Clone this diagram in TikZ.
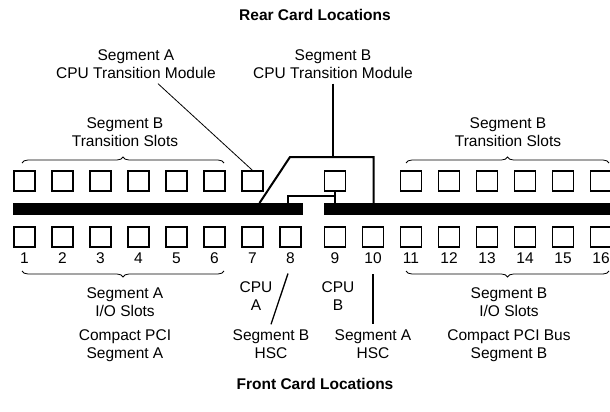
\documentclass[tikz,border=0pt]{standalone}
\usepackage{fontspec}
\setmainfont{Liberation Sans}
\usepackage{tikz}
\usetikzlibrary{positioning}
\usetikzlibrary{calc,decorations.pathreplacing}
\tikzset{
  slot/.style = {rectangle, draw, line width=1.3pt, minimum width=21pt,
   minimum height=20pt, inner sep=0pt},
  bus/.style = {rectangle, fill=black, inner sep=0pt, minimum height=12pt,
   anchor=north west},
  lbl/.style = {align=center, inner sep=0pt, font=\fontsize{15.5}{18}\selectfont},
  num/.style = {inner sep=0pt, font=\fontsize{15.5}{18}\selectfont},
  ttl/.style = {inner sep=0pt, font=\bfseries\fontsize{15.5}{18}\selectfont},
  wire/.style = {line width=2pt},
  lead/.style = {line width=0.8pt},
  brc/.style = {decorate, decoration={brace, amplitude=6pt}, line width=0.8pt},
}

\begin{document}
\begin{tikzpicture}[x=1pt, y=-1pt]
  \useasboundingbox (0,0) rectangle (610,412);
  % backplane
  \node[bus, minimum width=290pt] (busA) at (13,203) {};
  \node[bus, minimum width=300pt] (busB) at (324,203) {};
  % rear slots
  \foreach \i in {1,...,7}
    \node[slot] (r\i) at ({24.5+(\i-1)*38}, 181) {};
  \node[slot] (r9) at (335,181) {};
  \foreach \i in {11,...,16}
    \node[slot] (r\i) at ({335+(\i-9)*38}, 181) {};
  % front slots
  \foreach \i in {1,...,8}
    \node[slot] (f\i) at ({24.5+(\i-1)*38}, 237) {};
  \foreach \i in {9,...,16}
    \node[slot] (f\i) at ({335+(\i-9)*38}, 237) {};
  \foreach \i in {1,...,16}
    \node[num, below=5pt of f\i] (n\i) {\i};

  \node[ttl] (rear) at (315,15) {Rear Card Locations};
  \node[ttl] (front) at (315,384) {Front Card Locations};

  \node[lbl] (atm) at (136,64) {Segment A\\CPU Transition Module};
  \node[lbl] (btm) at (333,64) {Segment B\\CPU Transition Module};
  \node[lbl] (tsA) at (125,132) {Segment B\\Transition Slots};
  \node[lbl] (tsB) at (508,132) {Segment B\\Transition Slots};
  \node[lbl] (ioA) at (125,302) {Segment A\\I/O Slots};
  \node[lbl] (ioB) at (509,302) {Segment B\\I/O Slots};
  \node[lbl] (cpA) at (125,346) {Compact PCI\\Segment A};
  \node[lbl] (cpB) at (509,346) {Compact PCI Bus\\Segment B};
  \node[lbl] (cpuA) at (256,296) {CPU\\A};
  \node[lbl] (cpuB) at (338,296) {CPU\\B};
  \node[lbl] (hscB) at (271,344) {Segment B\\HSC};
  \node[lbl] (hscA) at (373,344) {Segment A\\HSC};

  % braces
  \draw[brc] (22,163) -- (224,163);
  \draw[brc] (406,163) -- (609,163);
  \draw[brc] (224,271) -- (22,271);
  \draw[brc] (609,271) -- (406,271);

  % transition module links
  \coordinate (kink) at (259.5,203);
  \coordinate (tmA) at (290,157);
  \coordinate (tmB) at (373.5,157);
  \coordinate (tee) at (287.5,196);
  \draw[wire] (kink |- busA.north) -- (tmA) -- (tmB) -- (tmB |- busB.north);
  \draw[wire] (tee |- busA.north) -- (tee) -- (tee -| r9.south);
  \draw[wire] (r9.south) -- (r9.south |- busB.north);

  % leaders
  \draw[lead] ([xshift=22pt,yshift=-5pt]atm.south) -- (r7.north);
  \draw[wire] ([yshift=-5pt]btm.south) -- (btm.south |- tmB);
  \draw[line width=1.3pt] ([xshift=-2.5pt,yshift=-9.5pt]n8.south)
    -- ([yshift=5pt]hscB.north);
  \draw[wire] ([yshift=-10pt]n10.south) -- ([yshift=5pt]n10.south |- hscA.north);
\end{tikzpicture}
\end{document}
